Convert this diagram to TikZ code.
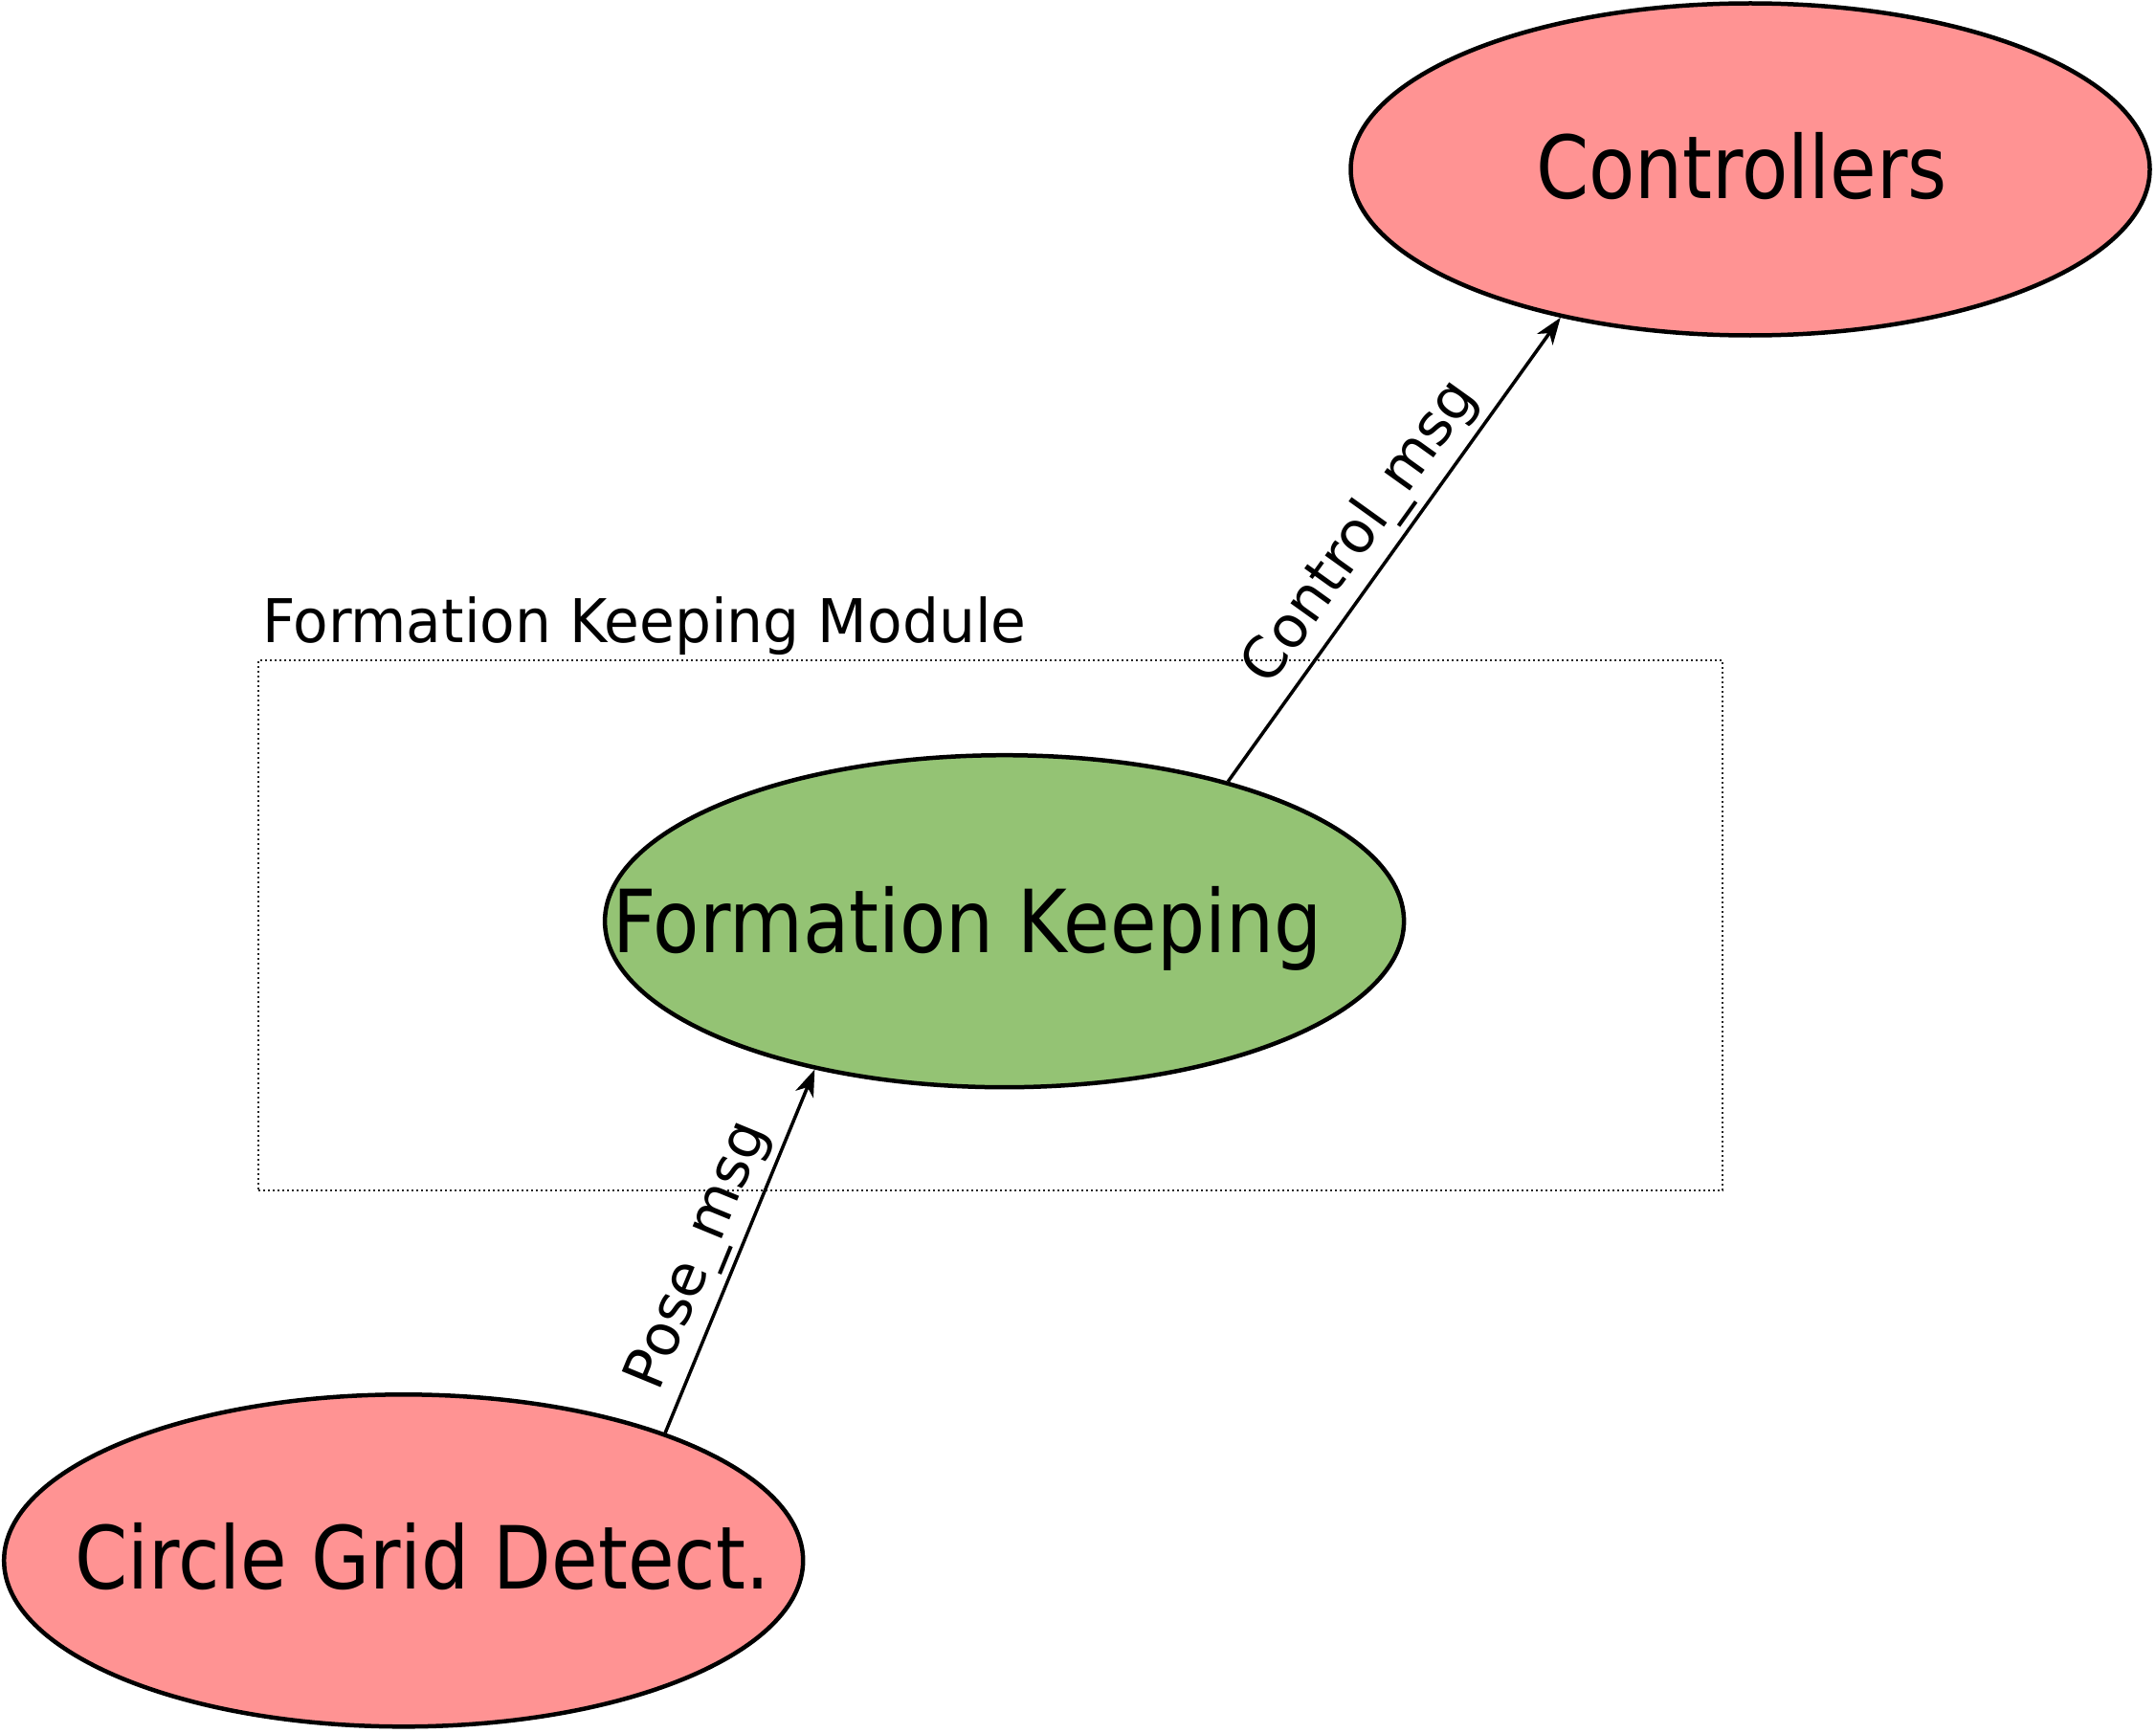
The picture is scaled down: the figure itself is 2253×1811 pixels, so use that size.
\documentclass[tikz,border=0pt]{standalone}
\usepackage{fontspec}
\setmainfont{DejaVu Sans}
\newfontfamily\bigcond{DejaVu Sans}[FakeStretch=0.868]
\newfontfamily\smallcond{DejaVu Sans}[FakeStretch=0.95]
\usetikzlibrary{shapes.geometric,arrows.meta}
\definecolor{pinkfill}{RGB}{255,147,147}
\definecolor{greenfill}{RGB}{148,195,116}
\begin{document}
\begin{tikzpicture}[x=1pt,y=-1pt,
  blob/.style={ellipse, draw=black, line width=4.5pt, minimum width=835pt, minimum height=347pt, inner sep=0pt},
  bigtext/.style={font=\bigcond\fontsize{91}{100}\selectfont, inner sep=0pt, anchor=base west},
  smalltext/.style={font=\smallcond\fontsize{63}{70}\selectfont, inner sep=0pt, anchor=base west},
  msg/.style={draw=black, line width=3.5pt, -{Stealth[length=28pt,width=20pt,inset=8pt]}},
  msglabel/.style={font=\fontsize{60}{66}\selectfont, sloped, above, inner sep=6pt},
  modbox/.style={draw=black!85, line width=1.6pt, dash pattern=on 2pt off 3pt, minimum width=1530pt, minimum height=554pt, inner sep=0pt}
]
\useasboundingbox (0,0) rectangle (2253,1811);
\node[modbox] (module) at (1035,967) {};
\node[smalltext] (modlabel) at (274,671) {Formation Keeping Module};
\node[blob, fill=pinkfill] (ctrl) at (1829,177) {};
\node[blob, fill=greenfill] (fk) at (1049.6,962.7) {};
\node[blob, fill=pinkfill] (cg) at (421.7,1630.8) {};
\node[bigtext] (ctrlt) at (1605,208) {Controllers};
\node[bigtext] (fkt) at (640,995) {Formation Keeping};
\node[bigtext] (cgt) at (78,1660) {Circle Grid Detect.};
\draw[msg] (cg.26.9) -- (fk.218) node[msglabel, pos=0.45] (posel) {Pose\_msg};
\draw[msg] (fk.32.1) -- (ctrl.218) node[msglabel, pos=0.49] (ctrll) {Control\_msg};
\end{tikzpicture}
\end{document}
